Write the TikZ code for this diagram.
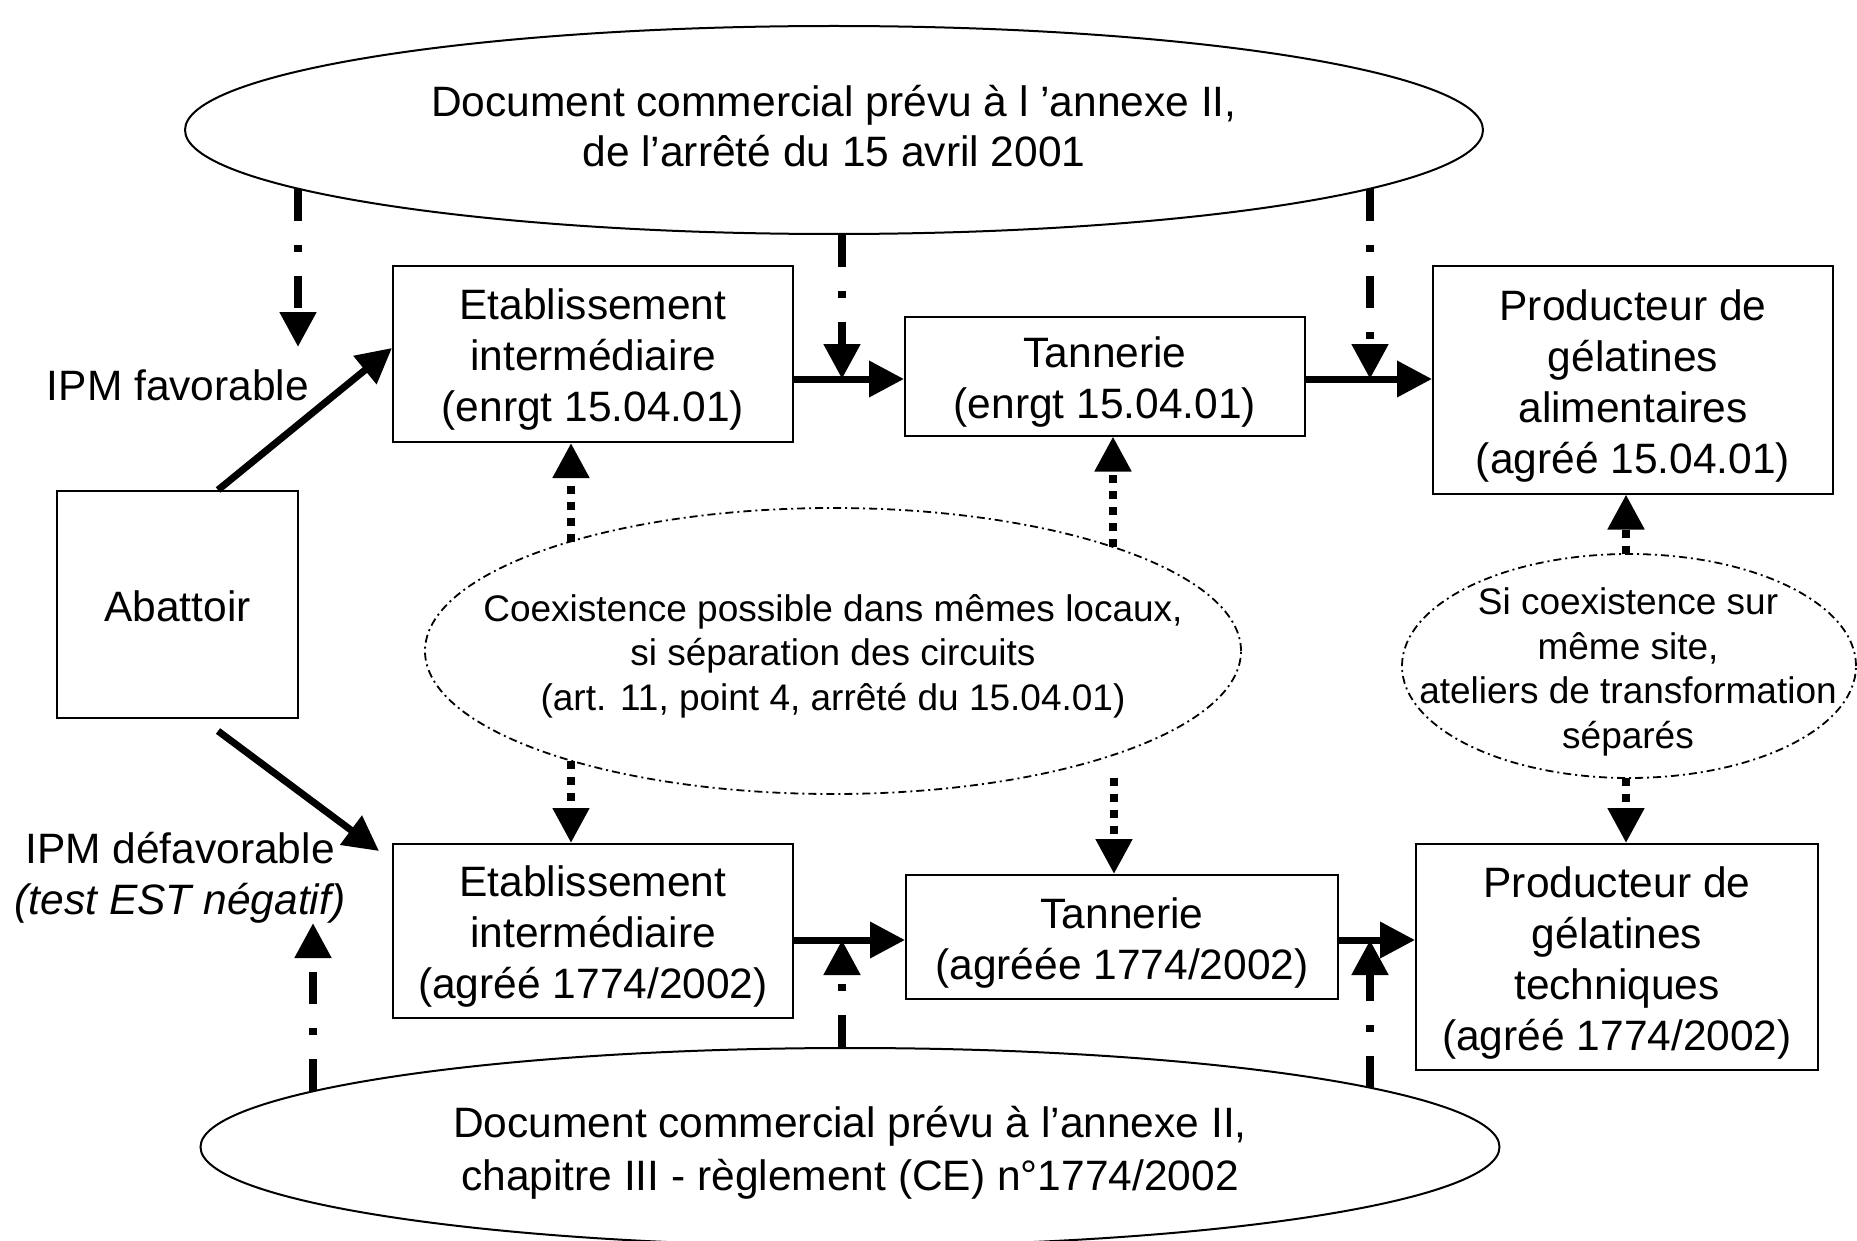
\documentclass[tikz,border=0pt]{standalone}
\usepackage{fontspec}
\setmainfont{Liberation Sans}
\usetikzlibrary{arrows.meta,shapes.geometric}
\begin{document}
\begin{tikzpicture}[x=1pt,y=-1pt,
  every node/.style={font=\fontsize{42.5}{51}\selectfont},
  txt/.style={align=center},
  box/.style={draw,line width=2pt,inner sep=0pt},
  boxtext/.style={align=center,yshift=-6pt},
  bigell/.style={draw,ellipse,line width=2pt,inner sep=0pt},
  smallell/.style={draw,ellipse,line width=1.8pt,inner sep=0pt,dash pattern=on 8pt off 4pt on 2pt off 4pt},
  flow/.style={line width=7pt,-{Triangle[length=35pt,width=35pt]}},
  docarrow/.style={line width=8pt,dash pattern=on 32pt off 24pt on 7pt off 24pt,-{Triangle[length=35pt,width=35pt]}},
  dotarrow/.style={line width=8pt,dash pattern=on 8pt off 8pt,-{Triangle[length=35pt,width=35pt]}},
  small/.style={txt,font=\fontsize{37}{44.5}\selectfont}
]
\useasboundingbox (0,0) rectangle (1857,1241);

% ellipses
\node[bigell,minimum width=1298pt,minimum height=208pt] (topell) at (834,130) {};
\node[txt,font=\fontsize{42.5}{50}\selectfont] (toptext) at (834,126) {Document commercial prévu à l ’annexe II,\\de l’arrêté du 15 avril 2001};
\node[bigell,minimum width=1299pt,minimum height=198pt] (botell) at (850,1147) {};
\node[txt,font=\fontsize{42.5}{53}\selectfont] (bottext) at (850,1153) {Document commercial prévu à l’annexe II,\\chapitre III - règlement (CE) n°1774/2002};
\node[smallell,minimum width=816pt,minimum height=286pt] (midell) at (833,651) {};
\node[small] (midtext) at (833,656) {Coexistence possible dans mêmes locaux,\\si séparation des circuits\\(art. 11, point 4, arrêté du 15.04.01)};
\node[smallell,minimum width=454pt,minimum height=224pt] (rightell) at (1629,666) {};
\node[small] (righttext) at (1628,672) {Si coexistence sur\\même site,\\ateliers de transformation\\séparés};

% boxes
\node[box,minimum width=400pt,minimum height=176pt] (e1) at (593,354) {};
\node[boxtext] (e1t) at (e1.center) {Etablissement\\intermédiaire\\(enrgt 15.04.01)};
\node[box,minimum width=400pt,minimum height=119pt] (t1) at (1105,376) {};
\node[boxtext] (t1t) at (t1.center) {Tannerie\\(enrgt 15.04.01)};
\node[box,minimum width=400pt,minimum height=227pt] (p1) at (1633,380) {};
\node[boxtext] (p1t) at (p1.center) {Producteur de\\gélatines\\alimentaires\\(agréé 15.04.01)};
\node[box,minimum width=241pt,minimum height=227pt] (ab) at (177.5,604.5) {};
\node[boxtext,yshift=4pt] (abt) at (ab.center) {Abattoir};
\node[box,minimum width=400pt,minimum height=174pt] (e2) at (593,931) {};
\node[boxtext] (e2t) at (e2.center) {Etablissement\\intermédiaire\\(agréé 1774/2002)};
\node[box,minimum width=432pt,minimum height=124pt] (t2) at (1122,937) {};
\node[boxtext] (t2t) at (t2.center) {Tannerie\\(agréée 1774/2002)};
\node[box,minimum width=402pt,minimum height=226pt] (p2) at (1617,957) {};
\node[boxtext] (p2t) at (p2.center) {Producteur de\\gélatines\\techniques\\(agréé 1774/2002)};

% labels
\node (fav) at (178,385) {IPM favorable};
\node[align=center] (defav) at (180,878) {IPM défavorable\\\itshape (test EST négatif)};

% rows
\coordinate (r1) at (0,379);
\coordinate (r2) at (0,940);

% main flow
\draw[flow] (e1.east |- r1) -- (t1.west |- r1);
\draw[flow] (t1.east |- r1) -- (p1.west |- r1);
\draw[flow] (e2.east |- r2) -- (t2.west |- r2);
\draw[flow] (t2.east |- r2) -- (p2.west |- r2);
\draw[flow] ([xshift=40.5pt]ab.north) -- ([yshift=6pt]e1.west);
\draw[flow] ([shift={(40.5pt,-12pt)}]ab.south) -- ([shift={(-13pt,-8pt)}]e2.north west);

% document arrows
\coordinate (dA) at (298,189);
\coordinate (tA) at (298,347);
\coordinate (xB) at (842,0);
\coordinate (dC) at (1370,189);
\coordinate (dD) at (313,1091);
\coordinate (tD) at (313,923);
\coordinate (dF) at (1370,1088);
\draw[docarrow] (dA) -- (tA);
\draw[docarrow] (topell.south -| xB) -- (xB |- r1);
\draw[docarrow] (dC) -- (dC |- r1);
\draw[docarrow] (dD) -- (tD);
\draw[docarrow] (botell.north -| xB) -- (xB |- r2);
\draw[docarrow] (dF) -- (dF |- r2);

% coexistence arrows
\coordinate (gS) at (571,542);
\coordinate (hS) at (1113,547);
\coordinate (iS) at (571,761);
\coordinate (jS) at (1114,778);
\coordinate (kS) at (1626,554);
\coordinate (lS) at (1626,778);
\draw[dotarrow] (gS) -- (gS |- e1.south);
\draw[dotarrow] (hS) -- (hS |- t1.south);
\draw[dotarrow] (iS) -- (iS |- e2.north);
\draw[dotarrow] (jS) -- (jS |- t2.north);
\draw[dotarrow] (kS) -- (kS |- p1.south);
\draw[dotarrow] (lS) -- (lS |- p2.north);
\end{tikzpicture}
\end{document}
